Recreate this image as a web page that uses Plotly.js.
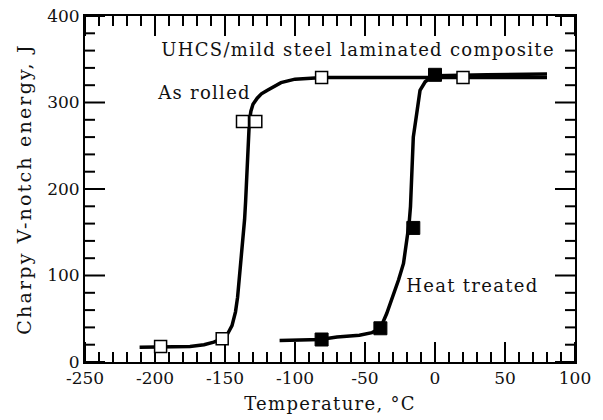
<!DOCTYPE html>
<html>
<head>
<meta charset="utf-8">
<script src="https://cdn.plot.ly/plotly-3.0.1.min.js"></script>
<style>
html,body{margin:0;padding:0;background:#fff;}
#chart{width:603px;height:420px;}
#chart text.annotation-text{letter-spacing:1.3px;}
#chart text.ytitle{letter-spacing:2.2px;}
#chart text.xtitle{letter-spacing:1.3px;}
</style>
</head>
<body>
<div id="chart"></div>
<script>
// As rolled: fitted curve
const asRolledCurveT = [-211,-190,-175,-165,-158,-152,-148,-145,-142.5,-141,-139.5,-138.5,-137,-136,-135.3,-134.5,-133.5,-132.6,-131.5,-130,-127,-124,-120,-115,-110,-100,-90,-80,-40,0,40,80];
const asRolledCurveE = [17,17,18,20,23,27,33,42,58,75,100,120,145,165,185,215,250,278,290,298,305,310,314,319,323,327,328,329,329,329,329,329];
// As rolled: measured points
const asRolledT = [-196,-152,-137.5,-128,-81,20];
const asRolledE = [18,27,278,278,329,329];
// Heat treated: fitted curve
const heatCurveT = [-111,-95,-82,-70,-54,-45,-39,-34.5,-30,-26,-22.5,-20.3,-18.5,-17.5,-16.7,-15.5,-13,-10.7,-7,-3,0,20,37,80];
const heatCurveE = [25,25,26,29,31,34,39,56,76,95,114,137,160,180,218,260,288,314,324,329,331,331,332,333];
// Heat treated: measured points
const heatT = [-81,-39,-15.5,0];
const heatE = [26,39,155,332];

// Axis ticks
const xTicks = [-250,-200,-150,-100,-50,0,50,100];
const xTickText = ['-250','-200','-150','-100','-50','0','50','100'];
const yTicks = [0,100,200,300,400];
const yTickText = ['0','100','200','300','400'];
const X_RANGE = [-250, 100];
const Y_RANGE = [0, 400];
const X_MINOR_STEP = 10;
const Y_MINOR_STEP = 20;

const FONT = "DejaVu Serif";
const INK = "#111";

const W = 603, H = 420;
const M = {l: 85, r: 28, t: 16, b: 58};
const plotW = W - M.l - M.r, plotH = H - M.t - M.b;
// tick lengths in pixels, converted to data units of each axis
const pxX = (X_RANGE[1] - X_RANGE[0]) / plotW;
const pxY = (Y_RANGE[1] - Y_RANGE[0]) / plotH;
const MAJOR = 20, MINOR = 10;

// Inside tick marks on all four sides, drawn as one line trace with gaps
const tickX = [], tickY = [];
function seg(x0, y0, x1, y1){ tickX.push(x0, x1, null); tickY.push(y0, y1, null); }
for (let v = X_RANGE[0]; v <= X_RANGE[1] + 1e-9; v += X_MINOR_STEP) {
  const len = (xTicks.indexOf(v) >= 0 ? MAJOR : MINOR) * pxY;
  seg(v, Y_RANGE[0], v, Y_RANGE[0] + len);
  seg(v, Y_RANGE[1], v, Y_RANGE[1] - len);
}
for (let v = Y_RANGE[0]; v <= Y_RANGE[1] + 1e-9; v += Y_MINOR_STEP) {
  const len = (yTicks.indexOf(v) >= 0 ? MAJOR : MINOR) * pxX;
  seg(X_RANGE[0], v, X_RANGE[0] + len, v);
  seg(X_RANGE[1], v, X_RANGE[1] - len, v);
}

const traces = [
  {x: tickX, y: tickY, mode: 'lines', line: {color: '#000', width: 2}, connectgaps: false, hoverinfo: 'skip'},
  {x: asRolledCurveT, y: asRolledCurveE, mode: 'lines', line: {color: '#000', width: 3.5}},
  {x: heatCurveT, y: heatCurveE, mode: 'lines', line: {color: '#000', width: 3.5}},
  {x: asRolledT, y: asRolledE, mode: 'markers', marker: {symbol: 'square', size: 12, color: '#fff', line: {color: '#000', width: 1.5}}},
  {x: heatT, y: heatE, mode: 'markers', marker: {symbol: 'square', size: 13, color: '#000', line: {color: '#000', width: 1}}}
];

const base = {
  showline: true, linecolor: '#000', linewidth: 2, mirror: true,
  ticks: '', showgrid: false, zeroline: false,
  tickfont: {family: FONT, size: 17, color: INK}
};
const xa = Object.assign({}, base, {
  range: X_RANGE, tickmode: 'array', tickvals: xTicks, ticktext: xTickText,
  title: {text: 'Temperature, °C', font: {family: FONT, size: 18, color: INK}, standoff: 10}
});
const ya = Object.assign({}, base, {
  range: Y_RANGE, tickmode: 'array', tickvals: yTicks, ticktext: yTickText,
  title: {text: 'Charpy V-notch energy, J', font: {family: FONT, size: 19, color: INK}, standoff: 10}
});

const layout = {
  width: W, height: H,
  margin: M,
  showlegend: false,
  xaxis: xa, yaxis: ya,
  annotations: [
    {x: -55, y: 361, xref: 'x', yref: 'y', text: 'UHCS/mild steel laminated composite', showarrow: false, xanchor: 'center', yanchor: 'middle', font: {family: FONT, size: 18, color: INK}},
    {x: -165, y: 311, xref: 'x', yref: 'y', text: 'As rolled', showarrow: false, xanchor: 'center', yanchor: 'middle', font: {family: FONT, size: 18, color: INK}},
    {x: 27, y: 89, xref: 'x', yref: 'y', text: 'Heat treated', showarrow: false, xanchor: 'center', yanchor: 'middle', font: {family: FONT, size: 18, color: INK}}
  ]
};

Plotly.newPlot('chart', traces, layout, {staticPlot: true});
</script>
</body>
</html>
